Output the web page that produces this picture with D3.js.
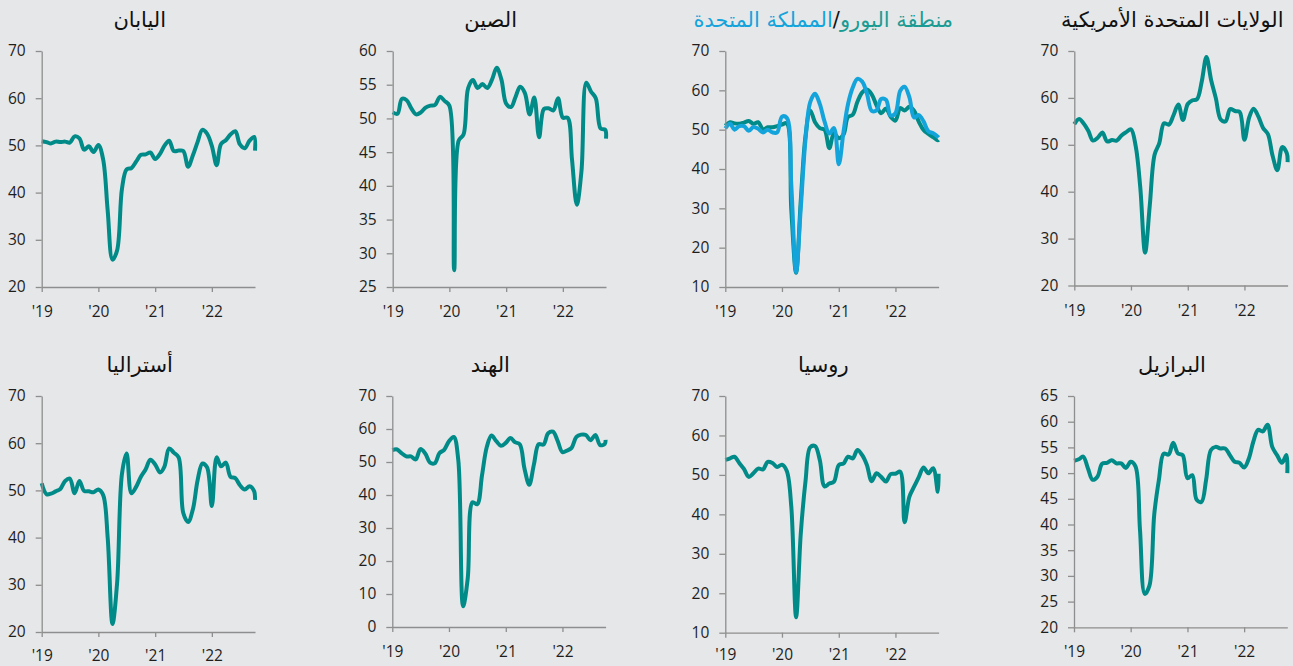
<!DOCTYPE html>
<html><head><meta charset="utf-8">
<script src="https://cdn.jsdelivr.net/npm/d3@7"></script>
<style>
html,body{margin:0;padding:0;background:#e6e7e8;}
svg{display:block;}
.tick text{font-family:"Open Sans",sans-serif;font-size:15.5px;fill:#1e1e1e;}
.title{font-family:"DejaVu Sans",sans-serif;font-size:21px;fill:#111;}
</style></head>
<body>
<svg id="chart" width="1293" height="666"></svg>
<script>
// ---- categories: monthly Jan 2019 .. Oct 2022, plus latest (Nov 2022) reading at axis end
const months = d3.timeMonth.range(new Date(2019,0,1), new Date(2022,10,1));
const latestDate = new Date(2022,9,6);
const dates = months.concat([latestDate]);
const yearTicks = [new Date(2019,0,1), new Date(2020,0,1), new Date(2021,0,1), new Date(2022,0,1)];
const yearLabels = ["'19","'20","'21","'22"];

// ---- series values (composite PMI)
const japan = [50.9,50.7,50.4,50.8,50.7,50.8,50.6,51.9,51.5,49.1,49.8,48.6,
  50.1,47.0,36.2,25.8,27.8,40.8,44.9,45.2,46.6,48.0,48.1,48.5,
  47.1,48.2,49.9,51.0,48.8,48.9,48.8,45.5,47.9,50.7,53.3,52.5,
  49.9,45.8,50.3,51.1,52.3,53.0,50.2,49.4,51.0,51.8,48.9];
const china = [50.9,50.7,52.9,52.7,51.5,50.6,50.9,51.6,51.9,52.0,53.2,52.6,
  51.9,27.5,46.7,47.6,54.5,55.7,54.5,55.1,54.5,55.7,57.5,55.8,
  52.2,51.7,53.1,54.7,53.8,50.6,53.1,47.2,51.4,51.5,51.2,53.0,
  50.1,50.1,43.9,37.2,42.2,55.3,54.0,53.0,48.5,48.3,47.0];
const eurozone = [51.0,51.9,51.6,51.5,51.8,52.2,51.5,51.9,50.1,50.6,50.6,50.9,
  51.3,51.6,29.7,13.6,31.9,48.5,54.9,51.9,50.4,50.0,45.3,49.1,
  47.8,48.8,53.2,53.8,57.1,59.5,60.2,59.0,56.2,54.2,55.4,53.3,
  52.3,55.5,54.9,55.8,54.8,52.0,49.9,48.9,48.1,47.3,47.4];
const uk = [50.3,51.5,50.0,50.9,50.9,49.7,50.7,50.2,49.3,50.0,49.3,49.3,
  53.3,53.0,36.0,13.8,30.0,47.7,57.0,59.1,56.5,52.1,49.0,50.4,
  41.2,49.6,56.4,60.7,62.9,62.2,59.2,54.8,54.9,57.8,57.6,53.6,
  54.2,59.9,60.9,58.2,53.1,53.7,52.1,49.6,49.1,48.2,48.0];
const usa = [54.4,55.5,54.6,53.0,50.9,51.5,52.6,50.7,51.0,50.9,52.0,52.7,
  53.3,49.6,40.9,27.0,37.0,47.9,50.3,54.6,54.3,56.3,58.6,55.3,
  58.7,59.5,59.7,63.5,68.7,63.7,59.9,55.4,55.0,57.6,57.2,57.0,
  51.1,55.9,57.7,56.0,53.6,52.3,47.7,44.6,49.5,48.2,46.3];
const australia = [51.5,49.2,49.3,49.8,50.3,52.0,52.5,49.4,52.0,49.9,49.8,49.6,
  50.2,49.0,40.0,21.7,30.5,53.5,57.8,49.4,50.8,52.9,54.5,56.5,
  55.5,53.8,55.0,58.9,58.0,57.0,45.2,43.3,46.0,52.1,55.7,54.9,
  46.7,57.0,55.1,55.9,52.9,52.6,51.1,50.2,50.9,49.8,48.0];
const india = [53.6,53.8,52.7,51.7,51.7,50.8,53.9,52.6,49.8,49.6,52.7,53.7,
  56.3,57.6,50.6,6.3,14.8,37.8,37.2,46.0,54.6,58.0,56.3,54.9,
  55.8,57.3,56.0,55.4,48.1,43.1,49.2,55.4,55.3,58.7,59.2,56.4,
  53.0,53.5,54.3,57.6,58.3,58.2,56.6,58.2,55.1,55.5,56.7];
const russia = [53.8,54.2,54.6,53.0,51.5,49.5,50.4,51.6,51.4,53.3,53.0,52.0,
  52.6,51.0,42.0,13.9,35.0,48.5,57.0,57.3,53.7,47.1,47.8,48.3,
  52.5,52.9,54.6,54.2,56.3,55.0,52.5,48.4,50.4,49.5,48.3,50.2,
  50.3,50.8,38.0,44.5,47.0,49.5,51.9,50.4,51.7,45.7,50.3];
const brazil = [52.4,52.7,53.2,50.9,48.7,49.3,51.8,52.0,52.5,51.9,51.9,51.0,
  52.2,51.3,39.0,26.5,28.1,42.0,48.7,53.8,53.6,55.9,53.8,53.5,
  49.0,49.6,44.8,44.4,48.7,54.5,55.1,54.8,54.8,53.5,52.2,52.0,
  51.1,52.9,56.1,58.4,58.1,59.4,55.1,53.5,52.0,53.5,50.0];

// ---- titles
const titles = ["اليابان","الصين",null,"الولايات المتحدة الأمريكية","أستراليا","الهند","روسيا","البرازيل"];
const euroTitle = {right:"منطقة اليورو", sep:"/", left:"المملكة المتحدة"};

// ---- y tick values
const yTicksJapan = [20,30,40,50,60,70];
const yTicksChina = [25,30,35,40,45,50,55,60];
const yTicksEuro = [10,20,30,40,50,60,70];
const yTicksUS = [20,30,40,50,60,70];
const yTicksAus = [20,30,40,50,60,70];
const yTicksIndia = [0,10,20,30,40,50,60,70];
const yTicksRussia = [10,20,30,40,50,60,70];
const yTicksBrazil = [20,25,30,35,40,45,50,55,60,65];

const TEAL = "#008b89", BLUE = "#13a4dc", TEAL_T = "#1a9c94";

const panels = [
  {title:titles[0], series:[{v:japan,c:TEAL}], ticks:yTicksJapan, x0:41.7, top:51, bottom:287, pad:14},
  {title:titles[1], series:[{v:china,c:TEAL}], ticks:yTicksChina, x0:392.7, top:51, bottom:287, pad:14},
  {title:null, euro:true, series:[{v:eurozone,c:TEAL},{v:uk,c:BLUE}], ticks:yTicksEuro, x0:725.3, top:51, bottom:287, pad:14},
  {title:titles[3], series:[{v:usa,c:TEAL}], ticks:yTicksUS, x0:1074.3, top:51, bottom:285.5, pad:14},
  {title:titles[4], series:[{v:australia,c:TEAL}], ticks:yTicksAus, x0:41.7, top:396, bottom:632, pad:12.5},
  {title:titles[5], series:[{v:india,c:TEAL}], ticks:yTicksIndia, x0:392.3, top:396, bottom:627, pad:13.5},
  {title:titles[6], series:[{v:russia,c:TEAL}], ticks:yTicksRussia, x0:725.3, top:396, bottom:632.7, pad:11},
  {title:titles[7], series:[{v:brazil,c:TEAL}], ticks:yTicksBrazil, x0:1074, top:396, bottom:627.3, pad:13.5},
];
const plotW = 213.3;
const svg = d3.select("#chart");
const AX = "#8e8e8e";

panels.forEach(p => {
  const x = d3.scaleTime().domain([dates[0], latestDate]).range([p.x0, p.x0 + plotW]);
  const y = d3.scaleLinear().domain([p.ticks[0], p.ticks[p.ticks.length-1]]).range([p.bottom, p.top]);
  const g = svg.append("g");

  const line = d3.line().x((d,i)=>x(dates[i])).y(d=>y(d)).curve(d3.curveCatmullRom.alpha(0.5));
  p.series.forEach(s => {
    g.append("path").datum(s.v).attr("d", line)
      .attr("fill","none").attr("stroke", s.c).attr("stroke-width",4)
      .attr("stroke-linejoin","round").attr("stroke-linecap","butt");
  });

  const ya = g.append("g").attr("transform",`translate(${p.x0},0)`)
    .call(d3.axisLeft(y).tickValues(p.ticks).tickSize(6).tickSizeOuter(0).tickPadding(10));
  const xa = g.append("g").attr("transform",`translate(0,${p.bottom})`)
    .call(d3.axisBottom(x).tickValues(yearTicks).tickFormat((d,i)=>yearLabels[i]).tickSize(5).tickSizeOuter(0).tickPadding(p.pad));
  [ya, xa].forEach(a => {
    a.select(".domain").attr("stroke", AX).attr("stroke-width",1.3);
    a.selectAll(".tick line").attr("stroke", AX).attr("stroke-width",1.3);
    a.selectAll(".tick text").attr("fill","#1e1e1e");
  });

  const cx = p.x0 + 98;
  const ty = p.top < 100 ? 27 : 371.5;
  if (p.euro) {
    const t1 = g.append("text").attr("class","title").attr("y",ty).style("fill",BLUE).text(euroTitle.left);
    const t2 = g.append("text").attr("class","title").attr("y",ty).style("fill","#111").text(euroTitle.sep);
    const t3 = g.append("text").attr("class","title").attr("y",ty).style("fill",TEAL_T).text(euroTitle.right);
    const w1 = t1.node().getComputedTextLength(), w2 = t2.node().getComputedTextLength(), w3 = t3.node().getComputedTextLength();
    const left = cx - (w1+w2+w3)/2;
    t1.attr("x", left);
    t2.attr("x", left + w1);
    t3.attr("x", left + w1 + w2);
  } else {
    g.append("text").attr("class","title").attr("x",cx).attr("y",ty).attr("text-anchor","middle").text(p.title);
  }
});
</script>
</body></html>
